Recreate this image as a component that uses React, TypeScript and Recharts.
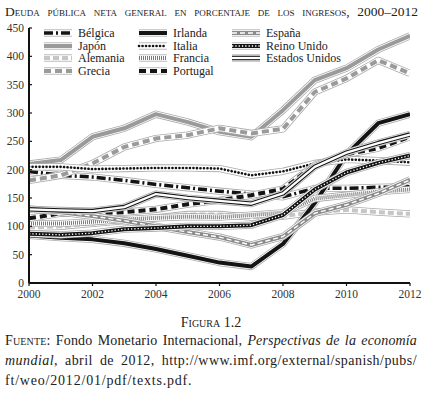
import React from 'react';
import { LineChart, Line, XAxis, YAxis } from 'recharts';

const years = [2000, 2001, 2002, 2003, 2004, 2005, 2006, 2007, 2008, 2009, 2010, 2011, 2012];
const belgica = [197, 190, 187, 181, 174, 168, 162, 157, 152, 167, 167, 169, 170];
const japon = [210, 217, 258, 273, 298, 284, 267, 258, 305, 358, 379, 412, 436];
const alemania = [98, 100, 105, 110, 115, 121, 121, 116, 118, 125, 129, 125, 122];
const grecia = [181, 190, 211, 240, 255, 261, 273, 264, 272, 337, 361, 393, 370];
const irlanda = [84, 80, 77, 70, 60, 48, 36, 29, 69, 141, 227, 282, 298];
const italia = [205, 205, 201, 202, 203, 203, 202, 190, 197, 211, 218, 216, 213];
const francia = [105, 105, 108, 112, 115, 117, 116, 120, 124, 149, 155, 161, 165];
const portugal = [114, 123, 123, 125, 130, 139, 146, 155, 166, 208, 227, 238, 258];
const espana = [131, 125, 118, 110, 100, 90, 81, 67, 82, 123, 138, 158, 182];
const reinoUnido = [87, 85, 88, 95, 97, 100, 100, 102, 120, 165, 195, 212, 225];
const estadosUnidos = [130, 128, 127, 134, 157, 150, 145, 140, 158, 205, 230, 247, 262];

const seriesNames = ['Bélgica', 'Japón', 'Alemania', 'Grecia', 'Irlanda', 'Italia', 'Francia', 'Portugal', 'España', 'Reino Unido', 'Estados Unidos'];
const seriesValues = [belgica, japon, alemania, grecia, irlanda, italia, francia, portugal, espana, reinoUnido, estadosUnidos];
const yTicks = [0, 50, 100, 150, 200, 250, 300, 350, 400, 450];
const xTicks = [2000, 2002, 2004, 2006, 2008, 2010, 2012];

const data = years.map((yr, i) => {
  const row: Record<string, number> = { year: yr };
  seriesNames.forEach((n, k) => { row[n] = seriesValues[k][i]; });
  return row;
});

type Layer = { stroke: string; width: number; dash?: string; cap?: 'round' | 'butt' | 'square' };
const HALO: Layer[] = [
  { stroke: '#ababab', width: 7.2 },
  { stroke: '#ffffff', width: 5.6 },
];
const styles: Record<string, Layer[]> = {
  'Bélgica': [{ stroke: '#141414', width: 3.5, dash: '9 3 2 3' }],
  'Japón': [{ stroke: '#9a9a9a', width: 4 }],
  'Alemania': [{ stroke: '#c6c6c6', width: 4, dash: '6 3' }],
  'Grecia': [{ stroke: '#9a9a9a', width: 4, dash: '7 4' }],
  'Irlanda': [{ stroke: '#141414', width: 4 }],
  'Italia': [{ stroke: '#141414', width: 2.6, dash: '0.1 3.4', cap: 'round' }],
  'Francia': [{ stroke: '#7a7a7a', width: 4, dash: '1 1' }],
  'Portugal': [{ stroke: '#141414', width: 4, dash: '7 4' }],
  'España': [{ stroke: '#8a8a8a', width: 4 }, { stroke: '#ffffff', width: 1.4, dash: '5 3' }],
  'Reino Unido': [{ stroke: '#141414', width: 4 }, { stroke: '#ffffff', width: 1.3, dash: '1.3 2' }],
  'Estados Unidos': [{ stroke: '#141414', width: 4.5 }, { stroke: '#ffffff', width: 2.3 }],
};

const legendCols = [
  ['Bélgica', 'Japón', 'Alemania', 'Grecia'],
  ['Irlanda', 'Italia', 'Francia', 'Portugal'],
  ['España', 'Reino Unido', 'Estados Unidos'],
];
const colX = [42, 137, 230];

const serif = '"Liberation Serif", "DejaVu Serif", serif';

const YTick = (props: any) => {
  const { x, y, payload } = props;
  return (
    <g>
      <line x1={x + 5} x2={x + 8} y1={y} y2={y} stroke="#111" strokeWidth={1.2} />
      <text x={x} y={y} textAnchor="end" dominantBaseline="central" fontFamily={serif} fontSize={11.5} fill="#333">
        {payload.value}
      </text>
    </g>
  );
};

const XTick = (props: any) => {
  const { x, y, payload } = props;
  return (
    <g>
      <line x1={x} x2={x} y1={y - 11} y2={y - 8} stroke="#111" strokeWidth={1.2} />
      <text x={x} y={y} textAnchor="middle" dominantBaseline="central" fontFamily={serif} fontSize={11.5} fill="#333">
        {payload.value}
      </text>
    </g>
  );
};

const Sample = ({ name }: { name: string }) => (
  <svg width={32} height={10} style={{ display: 'block' }}>
    {[...HALO, ...styles[name]].map((l, i) => (
      <line key={i} x1={2} x2={30} y1={5} y2={5} stroke={l.stroke} strokeWidth={l.width}
        strokeDasharray={l.dash} strokeLinecap={l.cap || 'butt'} />
    ))}
  </svg>
);

const para: React.CSSProperties = { position: 'absolute', left: 5, width: 412, fontSize: 14, lineHeight: '20px', whiteSpace: 'nowrap' };

export default function App() {
  const lines: React.ReactNode[] = [];
  seriesNames.forEach((n) => {
    [...HALO, ...styles[n]].forEach((l, i) => {
      lines.push(
        <Line key={n + i} type="linear" dataKey={n} stroke={l.stroke} strokeWidth={l.width}
          strokeDasharray={l.dash} strokeLinecap={l.cap || 'butt'} strokeLinejoin="round"
          dot={false} activeDot={false} isAnimationActive={false} legendType="none" />
      );
    });
  });

  return (
    <div style={{ position: 'absolute', left: 0, top: 0, width: 422, height: 393, background: '#fff', fontFamily: serif, color: '#222' }}>
      <div style={{ position: 'absolute', left: 5, top: 4, width: 413, lineHeight: '16px', fontSize: 13.5, fontVariant: 'small-caps', textAlign: 'justify', textAlignLast: 'justify', whiteSpace: 'nowrap' }}>
        Deuda pública neta general en porcentaje de los ingresos, 2000–2012
      </div>
      <div style={{ position: 'absolute', left: 0, top: 0 }}>
        <LineChart width={422} height={303} data={data} margin={{ top: 28, right: 12, bottom: 0, left: 0 }}>
          <XAxis dataKey="year" type="number" domain={[2000, 2012]} ticks={xTicks} interval={0}
            axisLine={{ stroke: '#111', strokeWidth: 2 }} tickLine={false} tickSize={0} tickMargin={11}
            tick={<XTick />} height={20} allowDataOverflow />
          <YAxis type="number" domain={[0, 450]} ticks={yTicks} interval={0} width={29}
            axisLine={{ stroke: '#111', strokeWidth: 2 }} tickLine={false} tickSize={0} tickMargin={5}
            tick={<YTick />} allowDataOverflow />
          {lines}
        </LineChart>
      </div>
      {legendCols.map((col, ci) => col.map((n, ri) => (
        <div key={n} style={{ position: 'absolute', left: colX[ci], top: 27 + ri * 12.7, height: 12, display: 'flex', alignItems: 'center', fontSize: 12, lineHeight: '12px' }}>
          <Sample name={n} />
          <span style={{ marginLeft: 4 }}>{n}</span>
        </div>
      )))}
      <div style={{ position: 'absolute', left: 0, top: 313, width: 422, textAlign: 'center', fontSize: 14, lineHeight: '20px', fontVariant: 'small-caps' }}>
        Figura 1.2
      </div>
      <div style={{ ...para, top: 331, textAlign: 'justify', textAlignLast: 'justify', letterSpacing: 0.15 }}>
        <span style={{ fontVariant: 'small-caps' }}>Fuente</span>: Fondo Monetario Internacional, <i>Perspectivas de la economía</i>
      </div>
      <div style={{ ...para, top: 351, textAlign: 'justify', textAlignLast: 'justify', letterSpacing: 0.45 }}>
        <i>mundial</i>, abril de 2012, http://www.imf.org/external/spanish/pubs/
      </div>
      <div style={{ ...para, top: 371, letterSpacing: 0.8 }}>
        ft/weo/2012/01/pdf/texts.pdf.
      </div>
    </div>
  );
}
